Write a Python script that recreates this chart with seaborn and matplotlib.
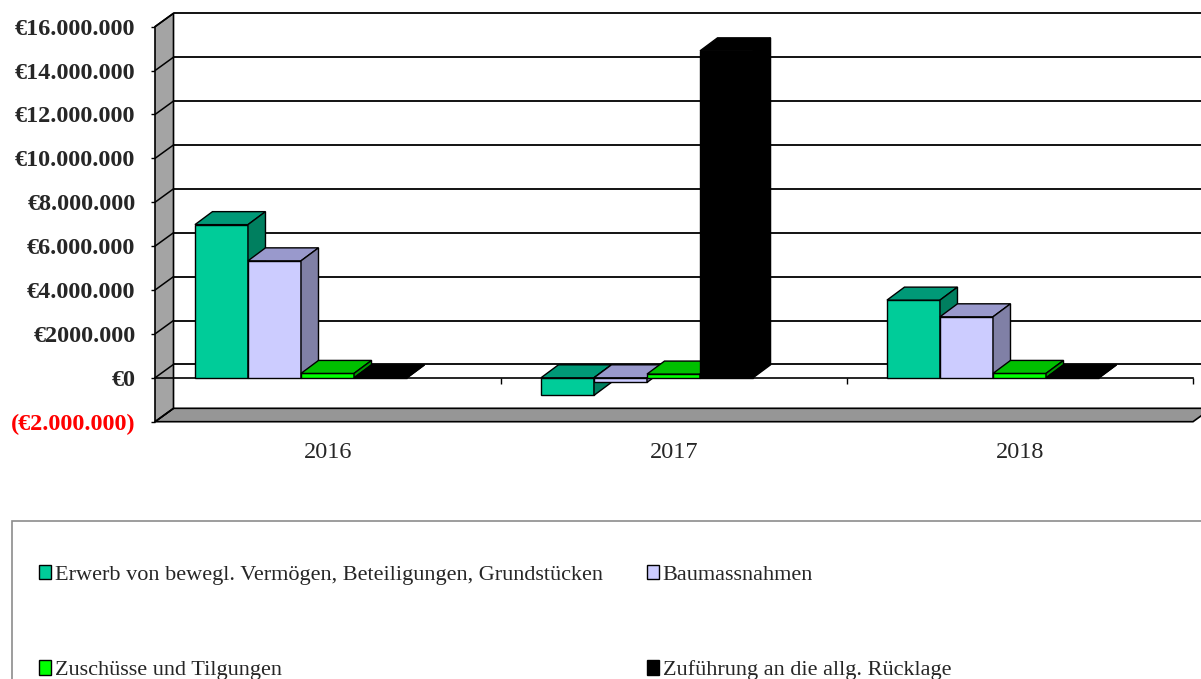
import numpy as np
import pandas as pd
import matplotlib
matplotlib.use("Agg")
import matplotlib.pyplot as plt
from matplotlib.patches import Polygon, Patch, Rectangle
import seaborn as sns

# --- Werte ---
jahre = ["2016", "2017", "2018"]
reihen = ["Erwerb von bewegl. Vermögen, Beteiligungen, Grundstücken",
          "Baumassnahmen",
          "Zuschüsse und Tilgungen",
          "Zuführung an die allg. Rücklage"]
erwerb = [6_980_000, -800_000, 3_540_000]
baumassnahmen = [5_330_000, -210_000, 2_780_000]
zuschuesse = [200_000, 170_000, 200_000]
zufuehrung = [0, 14_900_000, 0]

y_ticks = [-2_000_000, 0, 2_000_000, 4_000_000, 6_000_000, 8_000_000,
           10_000_000, 12_000_000, 14_000_000, 16_000_000]
y_labels = ["(€2.000.000)", "€0", "€2000.000", "€4.000.000", "€6.000.000",
            "€8.000.000", "€10.000.000", "€12.000.000", "€14.000.000",
            "€16.000.000"]

farben_front = ["#00CC99", "#CCCCFF", "#00FF00", "#000000"]
farben_oben = ["#009977", "#9999CC", "#00C000", "#000000"]
farben_seite = ["#007F5F", "#8080A6", "#009900", "#000000"]

# --- Long-Format fuer seaborn ---
zeilen = []
for name, werte in zip(reihen, [erwerb, baumassnahmen, zuschuesse, zufuehrung]):
    for j, w in zip(jahre, werte):
        zeilen.append((j, name, w))
df = pd.DataFrame(zeilen, columns=["jahr", "reihe", "wert"])

sns.set_theme(style="white")
plt.rcParams["font.family"] = ["Liberation Serif", "DejaVu Serif"]

W, H = 1201, 679
fig = plt.figure(figsize=(W / 100, H / 100), dpi=100)
ax = fig.add_axes([155 / W, 1 - 421.7 / H, 1038 / W, 395 / H])

sns.barplot(df, x="jahr", y="wert", hue="reihe", hue_order=reihen, order=jahre,
            palette=farben_front, saturation=1, width=0.613, errorbar=None,
            edgecolor="black", linewidth=1.0, legend=False, ax=ax)

ax.set_xlim(-0.5, 2.5)
ax.set_ylim(-2_000_000, 16_000_000)

# Pixel -> Dateneinheiten (fuer den 3D-Effekt)
px_x = 3 / 1038
px_y = 18_000_000 / 395
wand_dx, wand_dy = 18.5 * px_x, 13.4 * px_y
bar_dx, bar_dy = 17.5 * px_x, 13 * px_y
versatz = -27 * px_x

# Saeulen mit Ober- und Seitenflaeche
for k, cont in enumerate(ax.containers):
    z = 3 + k * 0.1
    for bar in cont:
        bar.set_x(bar.get_x() + versatz)
        bar.set_zorder(z)
        x0, w = bar.get_x(), bar.get_width()
        y0, h = bar.get_y(), bar.get_height()
        lo, hi = min(y0, y0 + h), max(y0, y0 + h)
        oben = Polygon([(x0, hi), (x0 + w, hi), (x0 + w + bar_dx, hi + bar_dy),
                        (x0 + bar_dx, hi + bar_dy)],
                       facecolor=farben_oben[k], edgecolor="black", lw=1.0, zorder=z)
        seite = Polygon([(x0 + w, lo), (x0 + w, hi), (x0 + w + bar_dx, hi + bar_dy),
                         (x0 + w + bar_dx, lo + bar_dy)],
                        facecolor=farben_seite[k], edgecolor="black", lw=1.0, zorder=z)
        ax.add_patch(oben)
        ax.add_patch(seite)

# Rueckwand-Gitternetz, Seitenwand, Boden
for t in y_ticks[1:]:
    ax.plot([-0.5 + wand_dx, 2.6], [t + wand_dy, t + wand_dy], color="black",
            lw=1.3, zorder=1, clip_on=False)
boden = Polygon([(-0.5, -2_000_000), (2.5, -2_000_000),
                 (2.5 + wand_dx, -2_000_000 + wand_dy),
                 (-0.5 + wand_dx, -2_000_000 + wand_dy)],
                facecolor="#969696", edgecolor="black", lw=1.2, zorder=2, clip_on=False)
ax.add_patch(boden)
wand = Polygon([(-0.5, -2_000_000), (-0.5, 16_000_000),
                (-0.5 + wand_dx, 16_000_000 + wand_dy),
                (-0.5 + wand_dx, -2_000_000 + wand_dy)],
               facecolor="#A4A4A4", edgecolor="black", lw=1.2, zorder=2.1, clip_on=False)
ax.add_patch(wand)
for t in y_ticks:
    ax.plot([-0.5, -0.5 + wand_dx], [t, t + wand_dy], color="black", lw=1.1,
            zorder=2.2, clip_on=False)

# Achsen
for s in ["top", "right", "left"]:
    ax.spines[s].set_visible(False)
ax.spines["bottom"].set_position(("data", 0))
ax.spines["bottom"].set_color("black")
ax.spines["bottom"].set_linewidth(1.2)
ax.spines["bottom"].set_zorder(2.5)

ax.set_yticks(y_ticks)
ax.set_yticklabels(y_labels, fontweight="bold", fontsize=17.5)
ax.get_yticklabels()[0].set_color("#FF0000")
ax.tick_params(axis="y", left=True, length=3, width=1, color="black", pad=11)

ax.set_xticks([0, 1, 2])
ax.set_xticklabels(jahre, fontsize=17.5)
ax.set_xticks([0.5, 1.5, 2.5], minor=True)
ax.tick_params(axis="x", which="major", bottom=True, length=0, pad=46)
ax.tick_params(axis="x", which="minor", bottom=True, length=4, width=1,
               color="black", direction="out")
ax.set_xlabel("")
ax.set_ylabel("")
ax.grid(False)

# Legende
griffe = [Patch(facecolor=c, edgecolor="black", linewidth=1.0) for c in farben_front]
reihenfolge = [0, 2, 1, 3]
fig.legend([griffe[i] for i in reihenfolge], [reihen[i] for i in reihenfolge],
           loc="upper left", bbox_to_anchor=(39 / W, 1 - 565 / H), ncol=2,
           frameon=False, fontsize=16, handlelength=0.55, handleheight=0.6,
           handletextpad=0.15, columnspacing=2.0, labelspacing=3.4,
           borderaxespad=0, borderpad=0)
fig.add_artist(Rectangle((12 / W, -0.05), 1.2, (H - 521) / H + 0.05,
                         transform=fig.transFigure, fill=False,
                         edgecolor="#8C8C8C", lw=1.2))

fig.savefig("out.png", dpi=100)
